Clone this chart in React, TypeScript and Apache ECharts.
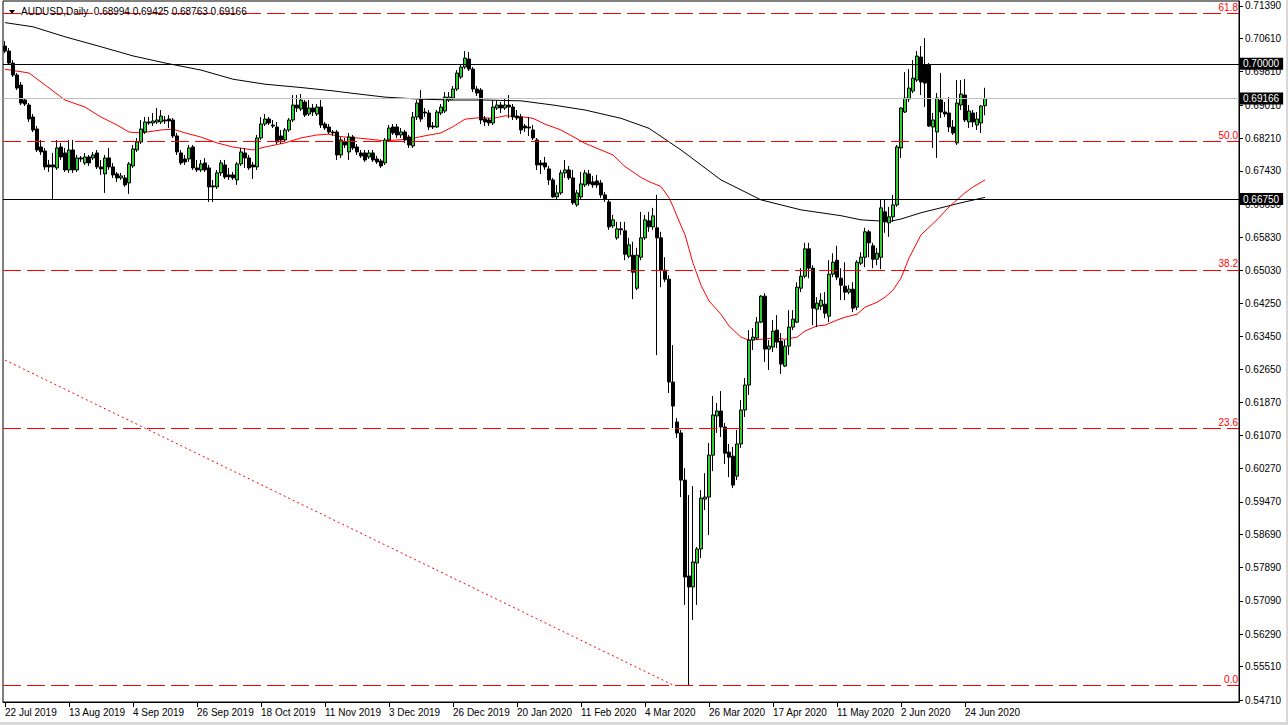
import React, { useEffect, useRef } from "react";
import * as echarts from "echarts";

// ---- time axis ----
const START_DATE = "2019-07-22";
const HOLIDAYS = ["2019-12-25", "2020-01-01"];
const BAR_COUNT = 246;
const SHIFT_BARS = 63;
const LABEL_EVERY = 16;

// ---- daily OHLC, AUDUSD ----
const opens = [
  0.70426, 0.70306, 0.70018, 0.6973, 0.6949, 0.6913, 0.6901, 0.68722, 0.68434, 0.68002,
  0.67906, 0.6757, 0.6757, 0.67498, 0.68002, 0.67858, 0.6745, 0.6793, 0.6745, 0.67738,
  0.67618, 0.67762, 0.67738, 0.67858, 0.67522, 0.67354, 0.67738, 0.67522, 0.67354, 0.67258,
  0.67258, 0.67138, 0.67546, 0.6793, 0.68122, 0.68362, 0.68602, 0.68578, 0.68602, 0.68602,
  0.6865, 0.68674, 0.6865, 0.68266, 0.67858, 0.67714, 0.67714, 0.68002, 0.67498, 0.6745,
  0.67618, 0.67498, 0.67066, 0.67042, 0.67378, 0.6757, 0.6733, 0.6733, 0.6721, 0.67594,
  0.67858, 0.67738, 0.6757, 0.67522, 0.68218, 0.68554, 0.68674, 0.6853, 0.68482, 0.68266,
  0.6817, 0.6841, 0.6865, 0.6901, 0.68914, 0.69082, 0.68794, 0.68938, 0.68794, 0.68962,
  0.68554, 0.68482, 0.68362, 0.68362, 0.6781, 0.68122, 0.67882, 0.68242, 0.68002, 0.67858,
  0.67858, 0.67762, 0.67858, 0.67714, 0.67666, 0.67618, 0.6817, 0.68482, 0.68482, 0.6829,
  0.68362, 0.68242, 0.68026, 0.68722, 0.69154, 0.68842, 0.68818, 0.68506, 0.68482, 0.68818,
  0.68866, 0.6913, 0.69178, 0.69394, 0.69682, 0.69922, 0.70114, 0.69874, 0.69394, 0.6937,
  0.68674, 0.6865, 0.68578, 0.68938, 0.6901, 0.68938, 0.6901, 0.68962, 0.68746, 0.68722,
  0.68506, 0.68482, 0.6841, 0.6817, 0.67618, 0.67618, 0.67474, 0.6721, 0.66802, 0.66898,
  0.67378, 0.6745, 0.67258, 0.6661, 0.66802, 0.6709, 0.67354, 0.67162, 0.67186, 0.67138,
  0.6685, 0.66682, 0.66106, 0.65818, 0.66034, 0.65986, 0.65376, 0.654, 0.64608, 0.65352,
  0.65818, 0.66226, 0.66082, 0.66058, 0.65818, 0.6504, 0.64824, 0.62352, 0.61392, 0.61128,
  0.59995, 0.57691, 0.57427, 0.58003, 0.58339, 0.59539, 0.59587, 0.60595, 0.61536, 0.61656,
  0.61272, 0.60667, 0.60571, 0.60091, 0.60864, 0.6168, 0.6228, 0.6336, 0.63408, 0.63792,
  0.64416, 0.63144, 0.63192, 0.636, 0.63336, 0.62736, 0.63216, 0.63672, 0.63792, 0.64608,
  0.64896, 0.65554, 0.65088, 0.64104, 0.64176, 0.64224, 0.63936, 0.64944, 0.6528, 0.64848,
  0.64656, 0.64512, 0.64584, 0.64152, 0.65208, 0.65352, 0.65962, 0.65626, 0.65304, 0.65352,
  0.66442, 0.66178, 0.66322, 0.6661, 0.67978, 0.68842, 0.69154, 0.69346, 0.6961, 0.70162,
  0.6997, 0.6997, 0.68482, 0.68362, 0.6913, 0.68842, 0.68818, 0.68482, 0.68098, 0.6901,
  0.6925, 0.68602, 0.68818, 0.6853, 0.68578, 0.68994,
];
const highs = [
  0.70546, 0.70378, 0.7009, 0.69778, 0.69562, 0.69178, 0.69058, 0.68794, 0.68506, 0.6817,
  0.67978, 0.6769, 0.67858, 0.6817, 0.68098, 0.67978, 0.6817, 0.6817, 0.6781, 0.67786,
  0.67858, 0.6781, 0.67882, 0.6793, 0.6769, 0.6781, 0.67978, 0.67618, 0.67402, 0.67378,
  0.6733, 0.67642, 0.6805, 0.68218, 0.6865, 0.68722, 0.68722, 0.68818, 0.68938, 0.6889,
  0.68746, 0.6877, 0.68698, 0.68338, 0.6793, 0.6781, 0.6805, 0.6805, 0.6769, 0.6769,
  0.67738, 0.6757, 0.6721, 0.6745, 0.6769, 0.6769, 0.67498, 0.67402, 0.67642, 0.67978,
  0.67978, 0.6781, 0.67642, 0.6829, 0.68722, 0.68794, 0.68722, 0.6865, 0.68602, 0.6841,
  0.68458, 0.68698, 0.6925, 0.6925, 0.69274, 0.6913, 0.6913, 0.69034, 0.69034, 0.6913,
  0.68602, 0.68554, 0.6841, 0.6841, 0.68242, 0.68218, 0.68338, 0.6829, 0.68074, 0.6793,
  0.6793, 0.6793, 0.6793, 0.67786, 0.67714, 0.68218, 0.6853, 0.68554, 0.68554, 0.68458,
  0.6841, 0.6829, 0.68842, 0.6913, 0.6937, 0.68938, 0.6889, 0.68602, 0.6889, 0.69034,
  0.69322, 0.69322, 0.69466, 0.6985, 0.69994, 0.70306, 0.70282, 0.69922, 0.69466, 0.69418,
  0.68746, 0.68698, 0.6913, 0.6913, 0.69082, 0.69178, 0.6925, 0.69034, 0.6889, 0.68794,
  0.68554, 0.68722, 0.6853, 0.68218, 0.6769, 0.67762, 0.67546, 0.67258, 0.6709, 0.6745,
  0.6769, 0.67546, 0.6745, 0.6697, 0.67402, 0.6745, 0.6745, 0.67306, 0.6733, 0.6721,
  0.66922, 0.66754, 0.6637, 0.66202, 0.66202, 0.66202, 0.65818, 0.65722, 0.65578, 0.66442,
  0.6637, 0.66442, 0.66538, 0.6685, 0.65962, 0.65352, 0.6492, 0.6324, 0.61488, 0.612,
  0.60283, 0.59635, 0.59851, 0.58387, 0.59755, 0.60163, 0.60888, 0.62016, 0.61848, 0.62136,
  0.61368, 0.60864, 0.60792, 0.612, 0.6192, 0.62448, 0.636, 0.63648, 0.63912, 0.6444,
  0.64488, 0.6336, 0.6384, 0.6396, 0.63528, 0.6336, 0.6408, 0.6408, 0.64752, 0.65088,
  0.65698, 0.65698, 0.6516, 0.64392, 0.64488, 0.64512, 0.6528, 0.65448, 0.65626, 0.65088,
  0.65232, 0.6468, 0.64752, 0.6528, 0.65472, 0.66058, 0.6601, 0.65698, 0.65578, 0.6673,
  0.6673, 0.66562, 0.6685, 0.6805, 0.68962, 0.69802, 0.69874, 0.7009, 0.70306, 0.70426,
  0.70618, 0.70018, 0.68818, 0.69298, 0.69778, 0.69082, 0.69202, 0.6865, 0.6961, 0.6961,
  0.69634, 0.6901, 0.6889, 0.68842, 0.6901, 0.69425,
];
const lows = [
  0.70258, 0.69994, 0.69682, 0.6937, 0.6901, 0.68986, 0.68602, 0.68362, 0.67882, 0.6781,
  0.6745, 0.67402, 0.6675, 0.6745, 0.6769, 0.67402, 0.67378, 0.67378, 0.67402, 0.67642,
  0.6757, 0.67546, 0.6769, 0.67474, 0.6733, 0.66898, 0.6745, 0.67258, 0.67162, 0.6721,
  0.67042, 0.66874, 0.67498, 0.67882, 0.68074, 0.68314, 0.6853, 0.68506, 0.68554, 0.68554,
  0.68554, 0.68458, 0.68218, 0.6781, 0.6757, 0.6757, 0.67642, 0.6745, 0.67402, 0.67402,
  0.67402, 0.66682, 0.66682, 0.66994, 0.67306, 0.67234, 0.6721, 0.6721, 0.6709, 0.67546,
  0.67498, 0.6745, 0.67234, 0.6745, 0.6817, 0.68506, 0.6853, 0.68458, 0.68074, 0.68074,
  0.68122, 0.68362, 0.68602, 0.68842, 0.68866, 0.68722, 0.68746, 0.68746, 0.68746, 0.68458,
  0.6841, 0.68314, 0.68266, 0.6769, 0.67738, 0.67978, 0.6769, 0.6793, 0.6781, 0.67738,
  0.67642, 0.67714, 0.67642, 0.67594, 0.67498, 0.6757, 0.68122, 0.6829, 0.68218, 0.68218,
  0.68098, 0.67978, 0.67978, 0.6865, 0.68602, 0.68722, 0.6841, 0.68434, 0.68458, 0.6877,
  0.68818, 0.69082, 0.6913, 0.69346, 0.69634, 0.69874, 0.69826, 0.69322, 0.69226, 0.68554,
  0.68506, 0.68506, 0.6853, 0.6889, 0.68818, 0.6889, 0.68698, 0.6865, 0.6865, 0.68314,
  0.68362, 0.68266, 0.6817, 0.6745, 0.67354, 0.6745, 0.6709, 0.66778, 0.66754, 0.6685,
  0.67258, 0.6721, 0.6661, 0.66562, 0.66754, 0.67042, 0.67066, 0.67018, 0.67018, 0.66778,
  0.66682, 0.6601, 0.66058, 0.6577, 0.6589, 0.6528, 0.65328, 0.64344, 0.6456, 0.6528,
  0.6577, 0.65962, 0.6601, 0.63, 0.64632, 0.64752, 0.62088, 0.61248, 0.61008, 0.59587,
  0.56995, 0.5507, 0.56635, 0.56995, 0.58123, 0.59275, 0.58675, 0.60211, 0.61128, 0.61032,
  0.60379, 0.60067, 0.59803, 0.59995, 0.60768, 0.61512, 0.6204, 0.6312, 0.6336, 0.63768,
  0.62832, 0.6264, 0.63072, 0.63168, 0.62544, 0.62712, 0.63, 0.636, 0.63768, 0.64512,
  0.64848, 0.64848, 0.6372, 0.63672, 0.6408, 0.63888, 0.63792, 0.64872, 0.648, 0.6432,
  0.6432, 0.64464, 0.64032, 0.6408, 0.6516, 0.65112, 0.65352, 0.65088, 0.6516, 0.65064,
  0.65938, 0.65842, 0.66202, 0.66562, 0.67738, 0.68818, 0.69082, 0.69298, 0.69562, 0.6925,
  0.68962, 0.68482, 0.67978, 0.67738, 0.68698, 0.68722, 0.68362, 0.6829, 0.6805, 0.6889,
  0.68602, 0.68458, 0.68482, 0.6841, 0.68338, 0.68763,
];
const closes = [
  0.70306, 0.70018, 0.6973, 0.69418, 0.69058, 0.69034, 0.68674, 0.6841, 0.6793, 0.67882,
  0.67522, 0.67522, 0.67522, 0.67978, 0.67762, 0.6745, 0.6793, 0.6745, 0.67738, 0.67714,
  0.67762, 0.67618, 0.6781, 0.67522, 0.67474, 0.67738, 0.67522, 0.6733, 0.67258, 0.67306,
  0.6709, 0.67594, 0.67954, 0.68122, 0.68434, 0.68602, 0.68578, 0.68626, 0.6865, 0.68746,
  0.68626, 0.68626, 0.68266, 0.67882, 0.67618, 0.67642, 0.67978, 0.67498, 0.6745, 0.67594,
  0.6745, 0.67042, 0.67042, 0.67378, 0.67618, 0.67282, 0.67282, 0.67258, 0.67594, 0.67882,
  0.67738, 0.67498, 0.67522, 0.68218, 0.68554, 0.68674, 0.68578, 0.68506, 0.68122, 0.6817,
  0.6841, 0.6865, 0.6901, 0.68938, 0.6913, 0.6877, 0.68938, 0.68842, 0.68962, 0.6853,
  0.68458, 0.68362, 0.68338, 0.6781, 0.6817, 0.6805, 0.68242, 0.67978, 0.67882, 0.67786,
  0.6769, 0.67858, 0.6769, 0.67642, 0.67546, 0.6817, 0.68458, 0.68338, 0.6829, 0.68362,
  0.6817, 0.6805, 0.68722, 0.69058, 0.68674, 0.68818, 0.68482, 0.68482, 0.68842, 0.68962,
  0.69202, 0.69202, 0.69394, 0.69778, 0.69922, 0.70138, 0.69874, 0.69394, 0.69298, 0.6865,
  0.68602, 0.68578, 0.68962, 0.6901, 0.68938, 0.6901, 0.68962, 0.68722, 0.68698, 0.6841,
  0.68458, 0.68458, 0.68218, 0.6757, 0.6757, 0.67522, 0.6721, 0.66802, 0.66898, 0.67378,
  0.6745, 0.67258, 0.66658, 0.66898, 0.67114, 0.67378, 0.67114, 0.6709, 0.6709, 0.6685,
  0.66754, 0.66082, 0.6625, 0.66034, 0.6601, 0.65424, 0.6565, 0.64992, 0.654, 0.65818,
  0.6625, 0.66082, 0.66346, 0.65818, 0.6504, 0.64824, 0.62352, 0.61776, 0.61128, 0.59995,
  0.57667, 0.57427, 0.58027, 0.58339, 0.59563, 0.59587, 0.60595, 0.6156, 0.61656, 0.61272,
  0.60643, 0.60547, 0.59875, 0.60864, 0.6168, 0.6228, 0.6336, 0.63432, 0.63792, 0.64416,
  0.63144, 0.63216, 0.63576, 0.63312, 0.62784, 0.63216, 0.63672, 0.63864, 0.64632, 0.64896,
  0.65554, 0.65088, 0.64128, 0.64248, 0.6432, 0.64008, 0.64944, 0.65232, 0.64872, 0.6468,
  0.64512, 0.64584, 0.64128, 0.65232, 0.65352, 0.65962, 0.65698, 0.65304, 0.65448, 0.66538,
  0.66202, 0.66322, 0.6661, 0.68002, 0.68938, 0.69178, 0.69418, 0.69658, 0.70186, 0.69562,
  0.69538, 0.68506, 0.6865, 0.69178, 0.68842, 0.68794, 0.68482, 0.68338, 0.69058, 0.69274,
  0.6865, 0.68866, 0.68602, 0.68674, 0.68986, 0.69166,
];

// ---- moving averages: [bar index, price] ----
const maSlow = [
  [0, 0.7099], [7, 0.7089], [15, 0.7065], [24, 0.7041], [32, 0.7019], [40, 0.7002],
  [49, 0.6985], [57, 0.6963], [65, 0.6951], [74, 0.6943], [82, 0.6935], [87, 0.6929],
  [95, 0.692], [104, 0.6915], [112, 0.6913], [120, 0.6913], [129, 0.6911], [137, 0.6901],
  [145, 0.6889], [154, 0.6869], [161, 0.6845], [169, 0.6793], [179, 0.6721], [189, 0.6673],
  [199, 0.6649], [209, 0.6635], [214, 0.6625], [221, 0.6621], [224, 0.6627], [229, 0.6642],
  [234, 0.6654], [239, 0.6666], [245, 0.6679],
];
const maFast = [
  [0, 0.6987], [6, 0.6978], [11, 0.6942], [15, 0.6913], [20, 0.6896], [24, 0.6872],
  [28, 0.6853], [31, 0.6836], [34, 0.6834], [39, 0.6841], [42, 0.6843], [45, 0.6834],
  [49, 0.6824], [53, 0.681], [57, 0.68], [62, 0.6793], [65, 0.68], [70, 0.681],
  [74, 0.6822], [78, 0.6829], [81, 0.6831], [84, 0.6825], [89, 0.6821], [95, 0.6815],
  [101, 0.6819], [105, 0.6827], [109, 0.6834], [112, 0.6849], [115, 0.6867], [119, 0.6871],
  [122, 0.6869], [125, 0.6875], [129, 0.6873], [132, 0.6869], [135, 0.6855], [139, 0.6841],
  [142, 0.6825], [145, 0.6809], [149, 0.6793], [152, 0.6781], [155, 0.6753], [159, 0.6727],
  [161, 0.6717], [164, 0.6705], [166, 0.6678], [167, 0.6657], [169, 0.6611], [170, 0.6589],
  [172, 0.6521], [174, 0.6468], [176, 0.643], [179, 0.6398], [181, 0.637], [184, 0.6343],
  [186, 0.6336], [189, 0.6338], [192, 0.6341], [195, 0.6338], [198, 0.6343], [200, 0.6358],
  [203, 0.637], [205, 0.6372], [208, 0.6384], [210, 0.6391], [213, 0.6398], [215, 0.6415],
  [218, 0.6427], [220, 0.6439], [222, 0.6456], [224, 0.6485], [226, 0.6533], [229, 0.6589],
  [233, 0.6625], [236, 0.6656], [240, 0.669], [242, 0.6704], [245, 0.6721],
];
const trendLine = [[0, 0.6288], [167, 0.5507]];

// ---- levels & ticks ----
const priceTicks = [
  0.7139, 0.7061, 0.6981, 0.6901, 0.6821, 0.6743, 0.6663, 0.6583, 0.6503, 0.6425, 0.6345,
  0.6265, 0.6187, 0.6107, 0.6027, 0.5947, 0.5869, 0.5789, 0.5709, 0.5629, 0.5551, 0.5471,
];
const fibLabels = ["61.8", "50.0", "38.2", "23.6", "0.0"];
const fibValues = [0.71213, 0.6813, 0.65047, 0.61234, 0.5507];
const supportLevels = [0.7, 0.6675];
const bidPrice = 0.69166;
const SYMBOL = "AUDUSD,Daily";

const MONTHS = ["Jan", "Feb", "Mar", "Apr", "May", "Jun", "Jul", "Aug", "Sep", "Oct", "Nov", "Dec"];

function buildDates(): string[] {
  const out: string[] = [];
  const d = new Date(START_DATE + "T00:00:00Z");
  while (out.length < BAR_COUNT) {
    const wd = d.getUTCDay();
    const iso = d.toISOString().slice(0, 10);
    if (wd !== 0 && wd !== 6 && !HOLIDAYS.includes(iso)) {
      out.push(`${d.getUTCDate()} ${MONTHS[d.getUTCMonth()]} ${d.getUTCFullYear()}`);
    }
    d.setUTCDate(d.getUTCDate() + 1);
  }
  for (let i = 0; i < SHIFT_BARS; i++) out.push("");
  return out;
}

const FONT = "'Liberation Sans', Arial, sans-serif";

export default function App() {
  const ref = useRef<HTMLDivElement>(null);
  useEffect(() => {
    document.body.style.margin = "0";
    if (!ref.current) return;
    const chart = echarts.init(ref.current, undefined, { renderer: "svg" });
    const dates = buildDates();
    const candles = opens.map((o, i) => [o, closes[i], lows[i], highs[i]]);
    const last = BAR_COUNT - 1;
    const header = `${SYMBOL}  ${opens[last].toFixed(5)} ${highs[last].toFixed(5)} ${lows[last].toFixed(5)} ${closes[last].toFixed(5)}`;

    const boxLabel = (v: number) => ({
      show: true,
      position: "end",
      distance: 1,
      formatter: v.toFixed(5),
      color: "#ffffff",
      backgroundColor: "#000000",
      padding: [1, 4, 1, 3],
      fontSize: 10,
      fontFamily: FONT,
    });

    const markData: any[] = [];
    fibValues.forEach((v, k) => {
      markData.push({
        yAxis: v,
        lineStyle: { color: "#ff0000", type: [18, 6], width: 1 },
        label: {
          show: true,
          position: "insideEndTop",
          formatter: fibLabels[k],
          color: "#ff0000",
          fontSize: 10,
          fontFamily: FONT,
          distance: [1, 1],
        },
      });
    });
    supportLevels.forEach((v) => {
      markData.push({ yAxis: v, lineStyle: { color: "#000000", type: "solid", width: 1 }, label: boxLabel(v) });
    });
    markData.push({ yAxis: bidPrice, lineStyle: { color: "#c0c0c0", type: "solid", width: 1 }, label: boxLabel(bidPrice) });

    const option: any = {
      animation: false,
      backgroundColor: "#ffffff",
      textStyle: { fontFamily: FONT },
      grid: { left: 3, right: 49, top: 1, bottom: 23, show: true, borderColor: "#000000", borderWidth: 1 },
      xAxis: {
        type: "category",
        data: dates,
        boundaryGap: true,
        axisLine: { lineStyle: { color: "#000000", width: 1 } },
        axisTick: {
          show: true,
          alignWithLabel: true,
          length: 5,
          interval: (i: number) => i % LABEL_EVERY === 0 && i < BAR_COUNT,
          lineStyle: { color: "#000000" },
        },
        axisLabel: {
          interval: (i: number, v: string) => i % LABEL_EVERY === 0 && v !== "",
          color: "#000000",
          fontSize: 10,
          fontFamily: FONT,
          align: "left",
          margin: 5,
        },
        splitLine: { show: false },
      },
      yAxis: {
        type: "value",
        position: "right",
        min: 0.54662,
        max: 0.7151,
        axisLine: { show: true, lineStyle: { color: "#000000" } },
        axisTick: { show: true, length: 4, customValues: priceTicks, lineStyle: { color: "#000000" } },
        axisLabel: {
          customValues: priceTicks,
          formatter: (v: number) => v.toFixed(5),
          color: "#000000",
          fontSize: 10,
          fontFamily: FONT,
          margin: 6,
        },
        splitLine: { show: false },
      },
      series: [
        {
          type: "line",
          data: maSlow,
          symbol: "none",
          lineStyle: { color: "#000000", width: 1 },
          z: 1,
        },
        {
          type: "line",
          data: maFast,
          symbol: "none",
          lineStyle: { color: "#ff0000", width: 1 },
          z: 1,
        },
        {
          type: "line",
          data: trendLine,
          symbol: "none",
          lineStyle: { color: "#ff0000", width: 1, type: [2, 3] },
          z: 1,
        },
        {
          type: "candlestick",
          data: candles,
          barWidth: 3,
          z: 2,
          itemStyle: {
            color: "#32cd32",
            color0: "#000000",
            borderColor: "#000000",
            borderColor0: "#000000",
            borderWidth: 1,
          },
          markLine: {
            silent: true,
            precision: 5,
            symbol: ["none", "none"],
            animation: false,
            data: markData,
          },
        },
      ],
      graphic: [
        { type: "polygon", z: 100, shape: { points: [[9, 10], [15, 10], [12, 14]] }, style: { fill: "#000000" } },
        {
          type: "text",
          z: 100,
          left: 21,
          top: 6,
          style: { text: header, fill: "#000000", font: `10px ${FONT}` },
        },
        { type: "rect", z: 100, shape: { x: 0, y: 722, width: 1288, height: 3 }, style: { fill: "#d9d9d9" } },
        { type: "rect", z: 100, shape: { x: 1286, y: 0, width: 2, height: 725 }, style: { fill: "#d9d9d9" } },
      ],
    };
    chart.setOption(option);
    return () => chart.dispose();
  }, []);
  return <div ref={ref} style={{ width: 1288, height: 725 }} />;
}
